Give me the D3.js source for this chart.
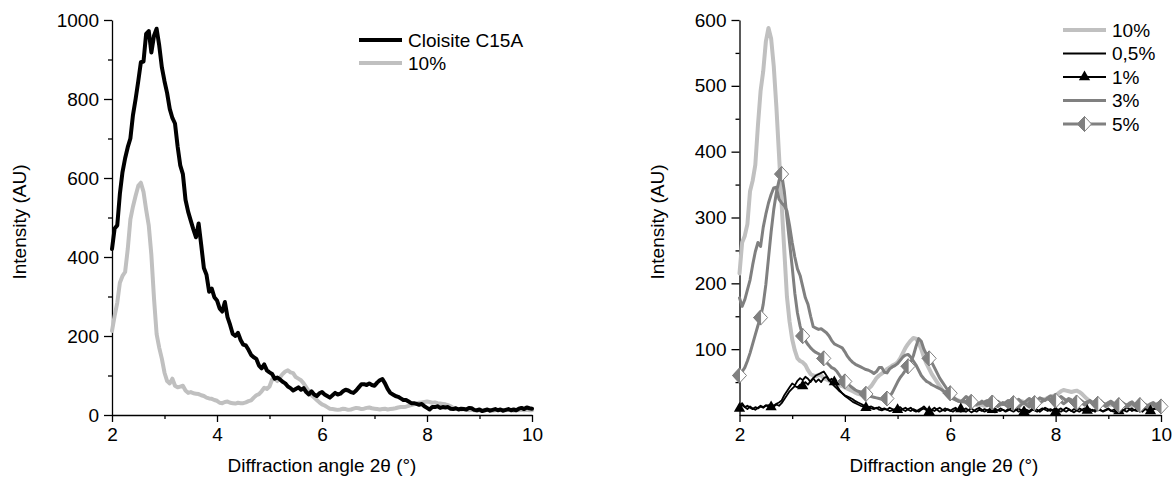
<!DOCTYPE html>
<html lang="en">
<head>
<meta charset="UTF-8">
<title>XRD patterns</title>
<script src="https://d3js.org/d3.v7.min.js"></script>
<style>
body {
  margin: 0;
  background: #fff;
}
svg text {
  font-family: "Liberation Sans", Arial, Helvetica, sans-serif;
  font-size: 19px;
  fill: #000;
}
.axis path, .axis line {
  stroke: #000;
  stroke-width: 1.3px;
}
.curve {
  fill: none;
  stroke-linejoin: round;
  stroke-linecap: round;
}
</style>
</head>
<body>
<svg id="chart" width="1176" height="482"></svg>
<script>

// one reading every 0.05 deg from 2 to 10 (161 readings per pattern)
var theta = d3.range(161).map(function(i) { return 2 + i * 0.05; });

// left plot: Cloisite C15A and 10%
var c15a = [
  420, 472, 480, 560, 615, 650, 678, 700, 760, 800, 845, 893, 895, 965, 972, 918, 960, 978, 935, 880,
  845, 815, 775, 752, 738, 680, 632, 610, 545, 515, 492, 470, 450, 485, 430, 372, 355, 312, 320, 298,
  290, 270, 262, 286, 248, 228, 205, 200, 208, 190, 178, 176, 165, 152, 146, 142, 125, 118, 128, 113,
  108, 104, 92, 95, 90, 84, 80, 72, 68, 62, 66, 70, 64, 68, 58, 52, 60, 52, 48, 55,
  58, 52, 48, 44, 50, 56, 52, 54, 60, 64, 62, 58, 56, 62, 70, 78, 78, 76, 80, 76,
  74, 82, 88, 91, 80, 66, 56, 52, 48, 46, 42, 38, 38, 34, 30, 30, 28, 26, 28, 22,
  18, 14, 20, 20, 22, 18, 20, 19, 20, 16, 15, 17, 14, 16, 15, 14, 18, 17, 13, 12,
  14, 10, 12, 14, 11, 13, 15, 12, 14, 11, 13, 15, 12, 14, 12, 16, 18, 15, 19, 17,
  16];
var clay10 = [
  213, 251, 284, 335, 352, 362, 420, 495, 528, 555, 580, 588, 565, 520, 480, 405, 295, 205, 170, 142,
  107, 86, 80, 92, 74, 70, 72, 74, 62, 56, 58, 55, 54, 53, 50, 48, 44, 42, 41, 38,
  36, 31, 30, 33, 34, 31, 30, 29, 31, 30, 30, 32, 35, 37, 44, 50, 53, 60, 69, 66,
  72, 90, 92, 86, 95, 104, 110, 113, 108, 106, 96, 92, 88, 80, 70, 60, 50, 44, 38, 32,
  27, 24, 20, 16, 15, 14, 13, 14, 16, 15, 13, 14, 16, 18, 17, 15, 16, 18, 19, 17,
  16, 15, 14, 15, 16, 14, 15, 16, 17, 19, 20, 20, 21, 23, 25, 27, 29, 31, 32, 33,
  34, 33, 31, 32, 30, 29, 28, 27, 25, 22, 18, 16, 15, 14, 15, 13, 12, 13, 12, 11,
  12, 11, 12, 13, 12, 11, 12, 13, 12, 11, 12, 13, 12, 11, 12, 12, 13, 12, 13, 12,
  12];

// right plot: nanocomposites
var pct10 = [
  215, 262, 272, 290, 340, 356, 380, 440, 492, 522, 567, 588, 572, 530, 468, 395, 320, 250, 180, 142,
  115, 98, 86, 82, 80, 76, 68, 62, 60, 59, 61, 60, 56, 54, 52, 50, 48, 46, 45, 44,
  42, 40, 38, 36, 34, 32, 31, 32, 36, 40, 44, 50, 56, 60, 63, 66, 70, 72, 75, 77,
  80, 86, 94, 102, 108, 113, 117, 116, 110, 100, 88, 78, 70, 62, 56, 50, 44, 38, 34, 31,
  29, 27, 24, 22, 21, 20, 19, 18, 17, 16, 15, 16, 15, 14, 15, 16, 17, 18, 17, 16,
  17, 18, 19, 20, 19, 18, 20, 21, 20, 19, 20, 22, 21, 22, 23, 24, 24, 26, 28, 29,
  30, 33, 36, 38, 37, 36, 35, 36, 37, 35, 32, 28, 24, 21, 19, 18, 17, 16, 17, 16,
  15, 16, 15, 14, 15, 16, 15, 14, 13, 14, 15, 14, 13, 14, 15, 14, 13, 14, 13, 14,
  13];
var pct05 = [
  14, 18, 12, 9, 13, 10, 8, 11, 14, 12, 15, 13, 16, 14, 17, 19, 22, 30, 36, 42,
  48, 45, 52, 56, 53, 58, 55, 50, 56, 60, 62, 64, 66, 60, 54, 48, 44, 40, 36, 33,
  30, 28, 26, 24, 21, 19, 17, 15, 14, 12, 13, 11, 10, 12, 9, 10, 8, 11, 9, 7,
  10, 12, 8, 6, 9, 11, 7, 5, 8, 10, 13, 9, 6, 8, 11, 8, 5, 7, 10, 8,
  6, 9, 11, 7, 5, 8, 10, 7, 4, 6, 9, 11, 8, 5, 7, 9, 6, 4, 7, 10,
  8, 5, 7, 10, 12, 8, 5, 7, 9, 6, 4, 7, 10, 8, 5, 8, 11, 9, 6, 8,
  10, 7, 5, 8, 11, 9, 6, 4, 7, 10, 8, 5, 7, 9, 6, 8, 11, 8, 5, 7,
  9, 6, 8, 10, 7, 5, 8, 11, 9, 6, 8, 10, 7, 9, 12, 8, 6, 9, 11, 8,
  10];
var pct1 = [
  10, 15, 12, 14, 11, 9, 12, 10, 13, 11, 14, 15, 12, 13, 16, 14, 18, 24, 30, 36,
  40, 44, 42, 46, 44, 50, 46, 52, 56, 50, 54, 50, 56, 58, 52, 55, 50, 44, 38, 33,
  29, 26, 23, 20, 18, 16, 14, 13, 11, 12, 10, 9, 11, 8, 7, 9, 8, 6, 7, 9,
  8, 6, 9, 11, 8, 6, 9, 7, 5, 8, 10, 7, 5, 8, 6, 9, 11, 8, 6, 9,
  7, 5, 8, 6, 9, 7, 5, 8, 10, 7, 5, 8, 6, 9, 7, 5, 8, 10, 7, 6,
  8, 6, 9, 7, 5, 8, 10, 7, 5, 8, 6, 9, 7, 5, 8, 10, 8, 6, 9, 7,
  5, 8, 10, 7, 5, 8, 6, 9, 7, 5, 8, 10, 7, 6, 8, 5, 9, 7, 6, 8,
  10, 7, 5, 8, 6, 9, 7, 5, 8, 10, 7, 6, 8, 5, 9, 7, 6, 8, 10, 7,
  8];
var pct3 = [
  178, 165, 175, 190, 205, 228, 248, 262, 256, 285, 305, 322, 335, 345, 346, 328, 322, 318, 310, 288,
  262, 240, 222, 212, 195, 178, 168, 150, 134, 132, 130, 131, 128, 125, 120, 113, 108, 106, 104, 102,
  96, 89, 84, 80, 77, 75, 73, 71, 69, 68, 66, 63, 66, 72, 72, 65, 64, 70, 73, 75,
  78, 83, 88, 91, 92, 88, 82, 76, 68, 60, 55, 51, 49, 46, 44, 42, 40, 38, 34, 30,
  27, 25, 23, 21, 20, 21, 19, 18, 20, 22, 19, 17, 18, 20, 22, 19, 17, 19, 21, 18,
  16, 19, 22, 20, 18, 21, 24, 20, 18, 22, 25, 22, 19, 23, 26, 24, 22, 26, 29, 27,
  24, 26, 28, 25, 22, 25, 23, 20, 22, 24, 21, 18, 20, 22, 19, 17, 20, 22, 18, 16,
  19, 21, 18, 15, 18, 20, 17, 15, 18, 20, 16, 14, 17, 19, 16, 14, 17, 19, 16, 18,
  17];
var pct5 = [
  60, 66, 72, 82, 94, 108, 122, 136, 148, 168, 198, 238, 278, 312, 338, 356, 366, 340, 300, 262,
  225, 185, 155, 135, 120, 113, 107, 102, 98, 95, 93, 90, 86, 80, 76, 72, 70, 66, 60, 54,
  51, 48, 44, 41, 38, 36, 35, 34, 32, 30, 28, 27, 26, 25, 24, 24, 25, 28, 34, 42,
  50, 57, 62, 68, 74, 80, 90, 104, 116, 112, 100, 92, 86, 80, 72, 64, 56, 50, 44, 38,
  33, 28, 24, 22, 20, 24, 28, 25, 20, 18, 16, 18, 21, 17, 14, 16, 19, 15, 13, 16,
  19, 15, 12, 15, 18, 14, 12, 16, 19, 15, 12, 15, 18, 16, 18, 21, 23, 25, 23, 19,
  22, 25, 21, 17, 20, 23, 19, 16, 19, 22, 18, 15, 18, 21, 17, 14, 17, 20, 16, 13,
  16, 19, 15, 12, 15, 18, 14, 12, 15, 18, 14, 12, 15, 17, 13, 11, 14, 16, 13, 15,
  13];

// ticks
var xMajor = [2, 4, 6, 8, 10],
    xMinor = [3, 5, 7, 9];
var leftYMajor = [0, 200, 400, 600, 800, 1000],
    leftYMinor = [100, 300, 500, 700, 900];
var rightYMajor = [100, 200, 300, 400, 500, 600],
    rightYMinor = [50, 150, 250, 350, 450, 550];

var leftNames = ["Cloisite C15A", "10%"];
var rightNames = ["10%", "0,5%", "1%", "3%", "5%"];

var svg = d3.select("#chart");

var xL = d3.scaleLinear().domain([2, 10]).range([112, 532]);
var yL = d3.scaleLinear().domain([0, 1000]).range([415, 20]);
var xR = d3.scaleLinear().domain([2, 10]).range([739.5, 1161]);
var yR = d3.scaleLinear().domain([0, 600]).range([415, 20]);

function drawAxes(x, y, yMajor, yMinor) {
  var base = y.range()[0], left = x.range()[0];

  svg.append("g").attr("class", "axis")
    .attr("transform", "translate(0," + base + ")")
    .call(d3.axisBottom(x).tickValues(xMajor).tickSize(7).tickSizeOuter(0).tickPadding(6).tickFormat(d3.format("d")));
  svg.append("g").attr("class", "axis")
    .attr("transform", "translate(0," + base + ")")
    .call(d3.axisBottom(x).tickValues(xMinor).tickSize(4).tickFormat(""))
    .select(".domain").remove();

  svg.append("g").attr("class", "axis")
    .attr("transform", "translate(" + left + ",0)")
    .call(d3.axisLeft(y).tickValues(yMajor).tickSize(8).tickSizeOuter(0).tickPadding(5).tickFormat(d3.format("d")));
  svg.append("g").attr("class", "axis")
    .attr("transform", "translate(" + left + ",0)")
    .call(d3.axisLeft(y).tickValues(yMinor).tickSize(4).tickFormat(""))
    .select(".domain").remove();
}

function drawCurve(x, y, values, color, width) {
  var line = d3.line()
    .x(function(d, i) { return x(theta[i]); })
    .y(function(d) { return y(d); });
  svg.append("path")
    .datum(values)
    .attr("class", "curve")
    .attr("d", line)
    .attr("stroke", color)
    .attr("stroke-width", width);
}

// half filled diamond, as in the original
function diamond(g, color) {
  g.append("path").attr("d", "M0,-7.5L7,0L0,7.5L-7,0Z")
    .attr("fill", "#fff").attr("stroke", color).attr("stroke-width", 1);
  g.append("path").attr("d", "M0,-7.5L-7,0L0,7.5Z")
    .attr("fill", color).attr("stroke", color).attr("stroke-width", 1);
}
function triangle(g) {
  g.append("path").attr("d", d3.symbol().type(d3.symbolTriangle).size(55))
    .attr("fill", "#000");
}

function drawMarkers(x, y, values, every, kind, color) {
  var pts = values.map(function(d, i) { return [theta[i], d]; })
    .filter(function(d, i) { return i % every === 0; });
  pts.forEach(function(p) {
    var g = svg.append("g").attr("transform", "translate(" + x(p[0]) + "," + y(p[1]) + ")");
    if (kind === "diamond") diamond(g, color); else triangle(g);
  });
}

function legendRow(x0, yy, label, color, width, marker) {
  svg.append("line")
    .attr("x1", x0).attr("x2", x0 + 43).attr("y1", yy).attr("y2", yy)
    .attr("stroke", color).attr("stroke-width", width);
  if (marker) {
    var g = svg.append("g").attr("transform", "translate(" + (x0 + 21.5) + "," + yy + ")");
    if (marker === "diamond") diamond(g, color); else triangle(g);
  }
  svg.append("text")
    .attr("x", x0 + 49).attr("y", yy).attr("dy", "0.35em")
    .text(label);
}

// ---- left plot
drawAxes(xL, yL, leftYMajor, leftYMinor);
drawCurve(xL, yL, clay10, "#c0c0c0", 4);
drawCurve(xL, yL, c15a, "#000", 4);
legendRow(359, 40, leftNames[0], "#000", 4);
legendRow(359, 63, leftNames[1], "#c0c0c0", 4);

// ---- right plot
drawAxes(xR, yR, rightYMajor, rightYMinor);
drawCurve(xR, yR, pct10, "#c0c0c0", 4);
drawCurve(xR, yR, pct05, "#000", 1.8);
drawCurve(xR, yR, pct1, "#000", 1.8);
drawCurve(xR, yR, pct3, "#808080", 3);
drawCurve(xR, yR, pct5, "#808080", 3);
drawMarkers(xR, yR, pct1, 12, "triangle", "#000");
drawMarkers(xR, yR, pct5, 8, "diamond", "#808080");

var rightStyles = [["#c0c0c0", 4, null], ["#000", 1.8, null], ["#000", 1.8, "triangle"],
                   ["#808080", 3, null], ["#808080", 3, "diamond"]];
rightNames.forEach(function(n, i) {
  legendRow(1063, 30 + i * 23.5, n, rightStyles[i][0], rightStyles[i][1], rightStyles[i][2]);
});

// axis titles
svg.append("text").attr("text-anchor", "middle")
  .attr("transform", "translate(26,222) rotate(-90)")
  .text("Intensity (AU)");
svg.append("text").attr("text-anchor", "middle")
  .attr("transform", "translate(664,222) rotate(-90)")
  .text("Intensity (AU)");
svg.append("text").attr("text-anchor", "middle")
  .attr("x", 322).attr("y", 472)
  .text("Diffraction angle 2\u03b8 (\u00b0)");
svg.append("text").attr("text-anchor", "middle")
  .attr("x", 944).attr("y", 472)
  .text("Diffraction angle 2\u03b8 (\u00b0)");

</script>
</body>
</html>
